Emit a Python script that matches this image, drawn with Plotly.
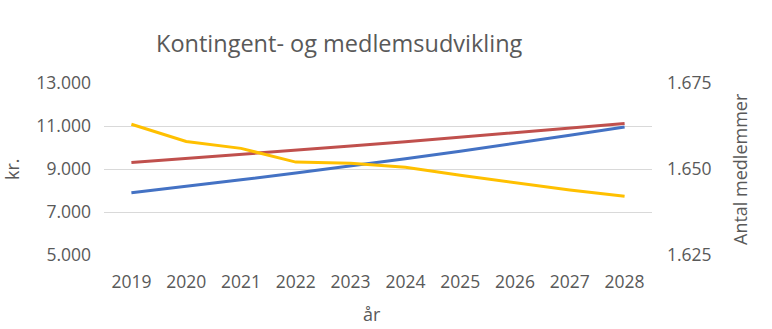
import plotly.graph_objects as go

years = ["2019", "2020", "2021", "2022", "2023", "2024", "2025", "2026", "2027", "2028"]
kontingent_a = [7900, 8190, 8495, 8810, 9135, 9475, 9825, 10190, 10565, 10955]
kontingent_b = [9300, 9485, 9675, 9870, 10065, 10270, 10475, 10685, 10895, 11115]
medlemmer = [1663, 1658, 1656, 1652, 1651.7, 1650.5, 1648.2, 1646, 1643.9, 1642.1]

left_ticks = [5000, 7000, 9000, 11000, 13000]
right_ticks = [1625, 1650, 1675]

gray = "#595959"
font = "Open Sans"
tick_size = 17.5

W, H = 772, 329
l, r, t, b = 104, 120, 83, 74
pw, ph = W - l - r, H - t - b

fig = go.Figure()
fig.add_trace(go.Scatter(x=years, y=kontingent_a, mode="lines",
                         line=dict(color="#4472C4", width=3), yaxis="y"))
fig.add_trace(go.Scatter(x=years, y=kontingent_b, mode="lines",
                         line=dict(color="#C0504D", width=3), yaxis="y"))
fig.add_trace(go.Scatter(x=years, y=medlemmer, mode="lines",
                         line=dict(color="#FFC000", width=3), yaxis="y2"))


def px2paper(px, py):
    return (px - l) / pw, (H - b - py) / ph


def ann(text, px, py, size, angle=0):
    x, y = px2paper(px, py)
    return dict(text=text, x=x, y=y, xref="paper", yref="paper", showarrow=False,
                xanchor="center", yanchor="middle", textangle=angle,
                font=dict(size=size, color=gray, family=font))


fig.update_layout(
    width=W, height=H,
    margin=dict(l=l, r=r, t=t, b=b),
    paper_bgcolor="white", plot_bgcolor="white",
    separators=",.",
    showlegend=False,
    font=dict(family=font, color=gray, size=16),
    xaxis=dict(type="category", range=[-0.5, 9.5], showgrid=False, zeroline=False,
               showline=False, ticks="", ticklabelstandoff=14,
               tickfont=dict(size=tick_size, color=gray)),
    yaxis=dict(range=[5000, 13000], tickvals=left_ticks, tickformat=",d",
               showgrid=True, gridcolor="#D9D9D9", gridwidth=1.3,
               zeroline=False, showline=False, ticks="", ticklabelstandoff=12,
               tickfont=dict(size=tick_size, color=gray)),
    yaxis2=dict(range=[1625, 1675], tickvals=right_ticks, tickformat=",d",
                overlaying="y", side="right", showgrid=False, zeroline=False,
                showline=False, ticks="", ticklabelstandoff=14,
                tickfont=dict(size=tick_size, color=gray)),
    annotations=[
        ann("Kontingent- og medlemsudvikling", 339, 43, 23.5),
        ann("kr.", 12, 169, 18, -90),
        ann("Antal medlemmer", 740, 169, 18, -90),
        ann("år", 372, 314, 18),
    ],
)

fig.write_html("out.html")
